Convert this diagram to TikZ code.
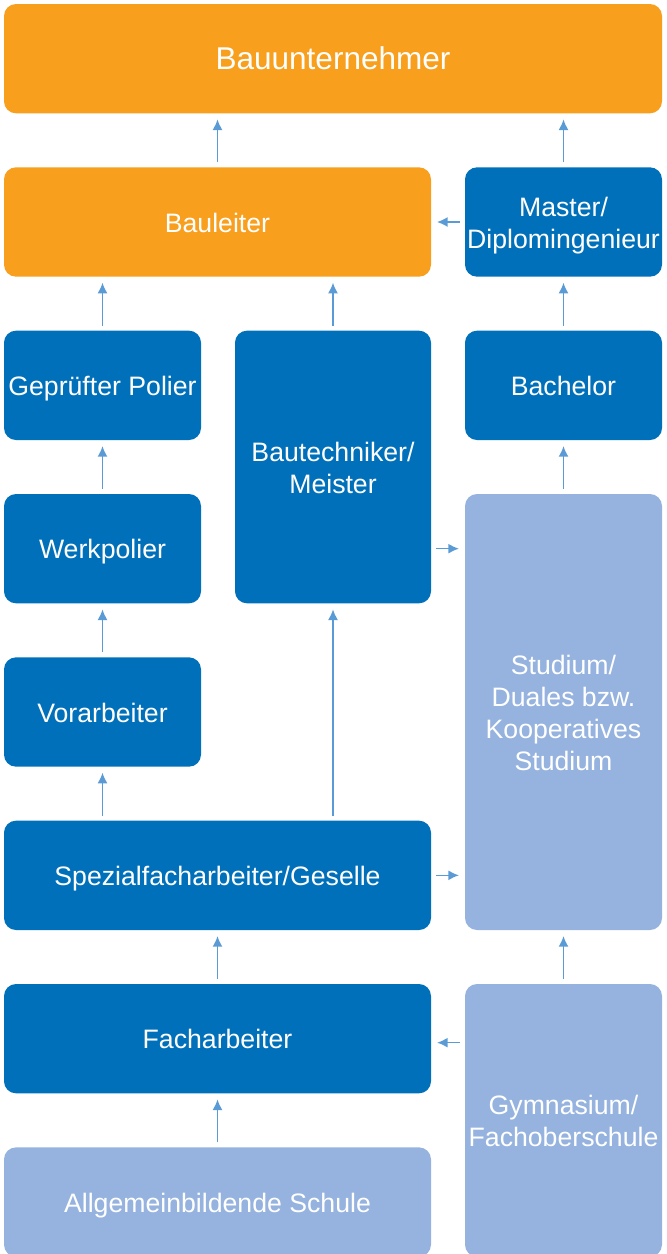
\documentclass[tikz,border=0pt]{standalone}
\usepackage{fontspec}
\setmainfont{Liberation Sans}
\usetikzlibrary{positioning,arrows.meta}
\definecolor{bauorange}{RGB}{248,159,30}
\definecolor{baublue}{RGB}{0,112,186}
\definecolor{baulight}{RGB}{149,179,222}
\definecolor{arrowblue}{RGB}{91,155,213}
\newcommand{\bstrut}{\rule[-4.35pt]{0pt}{24pt}}
\tikzset{>={Latex[length=8pt,width=7.5pt]}}

\begin{document}
\begin{tikzpicture}[
    box/.style={rectangle, rounded corners=9pt, inner sep=0pt, outer sep=0pt,
      text=white, align=center, font=\fontsize{20}{24}\selectfont,
      execute at begin node=\bstrut, execute at end node=\bstrut,
      minimum width=147.75pt, minimum height=82pt},
    orangebox/.style={box, fill=bauorange},
    bluebox/.style={box, fill=baublue},
    lightbox/.style={box, fill=baulight},
    wide/.style={minimum width=320.25pt},
    arr/.style={->, draw=arrowblue, line width=1.2pt,
      shorten <=3.75pt, shorten >=4.5pt}]

  \useasboundingbox (0,0) rectangle (500.25pt,-940.5pt);

  % Nodes
  \node[orangebox, minimum width=493.5pt, font=\fontsize{23.65}{28}\selectfont,
    text height=19pt, text depth=3pt, anchor=north west] (bauunt) at (3pt,-3pt) {Bauunternehmer};
  \node[orangebox, wide, below=40.5pt of bauunt.south west, anchor=north west] (bauleiter) {Bauleiter};
  \node[bluebox, below=40.5pt of bauunt.south east, anchor=north east] (master) {\bstrut Master/\\Diplomingenieur};
  \node[bluebox, below=40.5pt of bauleiter.south west, anchor=north west] (polier) {Geprüfter Polier};
  \node[bluebox, minimum width=147pt, minimum height=204.5pt,
    right=25.5pt of polier.north east, anchor=north west] (bautech) {\bstrut Bautechniker/\\Meister};
  \node[bluebox, below=40.5pt of master] (bachelor) {Bachelor};
  \node[bluebox, below=40.5pt of polier] (werkpolier) {Werkpolier};
  \node[lightbox, minimum height=327pt, below=40.5pt of bachelor] (studium) {\bstrut Studium/\\Duales bzw.\\Kooperatives\\Studium};
  \node[bluebox, below=40.5pt of werkpolier] (vorarbeiter) {Vorarbeiter};
  \node[bluebox, wide, below=40.5pt of vorarbeiter.south west, anchor=north west] (spezial) {Spezialfacharbeiter/Geselle};
  \node[bluebox, wide, below=40.5pt of spezial] (facharbeiter) {Facharbeiter};
  \node[lightbox, minimum height=204.5pt, below=40.5pt of studium] (gymnasium) {\bstrut Gymnasium/\\Fachoberschule};
  \node[lightbox, wide, below=40.5pt of facharbeiter] (allgemein) {Allgemeinbildende Schule};

  % Edges
  \draw[arr] (bauleiter.north) -- (bauleiter.north |- bauunt.south);
  \draw[arr] (master.north) -- (master.north |- bauunt.south);
  \draw[arr] (master) -- (bauleiter);
  \draw[arr] (polier.north) -- (polier.north |- bauleiter.south);
  \draw[arr] (bautech.north) -- (bautech.north |- bauleiter.south);
  \draw[arr] (bachelor) -- (master);
  \draw[arr] (werkpolier) -- (polier);
  \draw[arr] (studium) -- (bachelor);
  \draw[arr] (bautech.east |- werkpolier) -- (studium.west |- werkpolier);
  \draw[arr] (vorarbeiter) -- (werkpolier);
  \draw[arr] (vorarbeiter.south |- spezial.north) -- (vorarbeiter.south);
  \draw[arr] (bautech.south |- spezial.north) -- (bautech.south);
  \draw[arr] (spezial.east) -- (studium.west |- spezial.east);
  \draw[arr] (facharbeiter) -- (spezial);
  \draw[arr] (gymnasium) -- (studium);
  \draw[arr] ([yshift=-3pt]gymnasium.west |- facharbeiter.east) -- ([yshift=-3pt]facharbeiter.east);
  \draw[arr] (allgemein) -- (facharbeiter);

\end{tikzpicture}
\end{document}
